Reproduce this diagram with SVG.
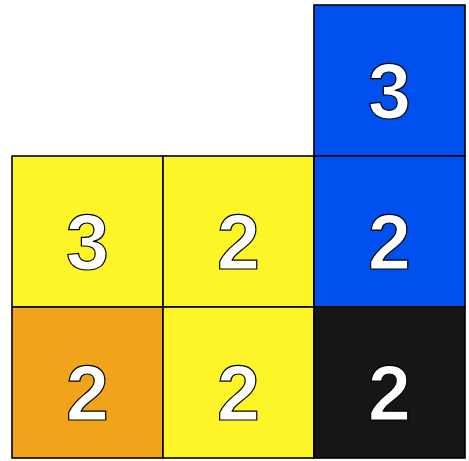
<svg xmlns="http://www.w3.org/2000/svg" width="469" height="461" viewBox="0 0 469 461">
<style>
.cell{stroke:#000;stroke-width:1.6}
.lbl{font-family:"Liberation Sans",Arial,sans-serif;font-size:77px;font-weight:bold;fill:#fff;stroke:#000;stroke-width:1.2;text-anchor:middle}
</style>
<rect width="469" height="461" fill="#fff"/>
<g id="c-0-2"><rect class="cell" x="314" y="5" width="151" height="151" fill="#0050ef"/><text class="lbl" x="389.5" y="118">3</text></g>
<g id="c-1-0"><rect class="cell" x="12" y="156" width="151" height="151" fill="#fdf527"/><text class="lbl" x="87.5" y="269">3</text></g>
<g id="c-1-1"><rect class="cell" x="163" y="156" width="151" height="151" fill="#fdf527"/><text class="lbl" x="238.5" y="269">2</text></g>
<g id="c-1-2"><rect class="cell" x="314" y="156" width="151" height="151" fill="#0050ef"/><text class="lbl" x="389.5" y="269">2</text></g>
<g id="c-2-0"><rect class="cell" x="12" y="307" width="151" height="151" fill="#f0a31b"/><text class="lbl" x="87.5" y="420">2</text></g>
<g id="c-2-1"><rect class="cell" x="163" y="307" width="151" height="151" fill="#fdf527"/><text class="lbl" x="238.5" y="420">2</text></g>
<g id="c-2-2"><rect class="cell" x="314" y="307" width="151" height="151" fill="#161616"/><text class="lbl" x="389.5" y="420">2</text></g>
<g id="connectors"/>
</svg>
